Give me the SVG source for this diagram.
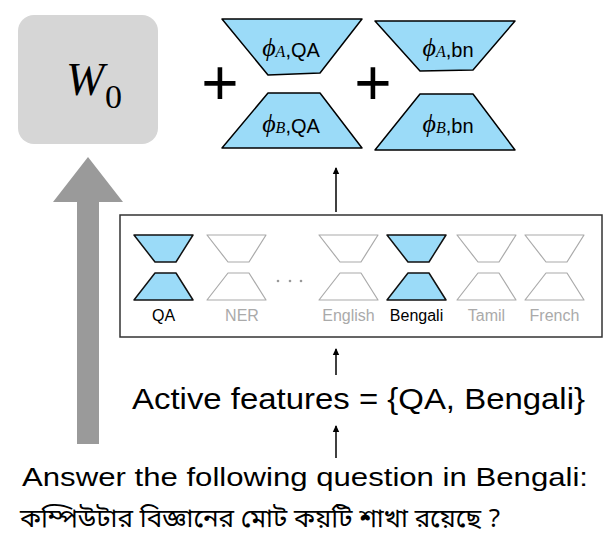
<svg xmlns="http://www.w3.org/2000/svg" width="609" height="542" viewBox="0 0 609 542">
<style>
.sans{font-family:"Liberation Sans",Arial,Helvetica,sans-serif}
.serif{font-family:"Liberation Serif","Times New Roman",serif}
.big{fill:#9bdbf8;stroke:#000;stroke-width:1.5;stroke-linejoin:round}
.on{fill:#9bdbf8;stroke:#111;stroke-width:1.5;stroke-linejoin:round}
.off{fill:none;stroke:#aaa;stroke-width:1.2;stroke-linejoin:round}
.lab{font-size:16px;text-anchor:middle}
.conn{stroke:#000;stroke-width:1.5;fill:none}
</style>
<defs>
<marker id="ah" markerWidth="8" markerHeight="8" refX="6" refY="4" orient="auto" markerUnits="userSpaceOnUse">
<path d="M0,0.8 L7,4 L0,7.2 Z" fill="#000"/>
</marker>
<g id="upper"><polygon points="0,0 59,0 42,27 21,27"/></g>
<g id="lower"><polygon points="21,38 42,38 59,65 0,65"/></g>
</defs>
<rect width="609" height="542" fill="#fff"/>

<g id="W0">
<rect x="18" y="15" width="140" height="129" rx="16" fill="#d6d6d6"/>
<text class="serif" x="66" y="95" font-size="46" font-style="italic" fill="#000">W</text>
<text class="serif" x="105" y="108" font-size="34" fill="#000">0</text>
</g>

<g id="bigArrow">
<polygon points="77,444 77,202 53,202 88,157 123,202 99,202 99,444" fill="#9a9a9a"/>
</g>

<g id="plus1"><text class="sans" x="220" y="105" font-size="64" text-anchor="middle" fill="#000">+</text></g>
<g id="plus2"><text class="sans" x="373" y="105" font-size="64" text-anchor="middle" fill="#000">+</text></g>

<g id="phiAQA">
<polygon class="big" points="222,19 362,19 320,73 268,75"/>
<text x="291" y="56" text-anchor="middle" fill="#000"><tspan class="serif" font-style="italic" font-size="26">ϕ</tspan><tspan class="serif" font-style="italic" font-size="16" dy="1">A</tspan><tspan class="sans" font-size="20">,QA</tspan></text>
</g>
<g id="phiBQA">
<polygon class="big" points="268,93 320,93 362,148 222,148"/>
<text x="291" y="132" text-anchor="middle" fill="#000"><tspan class="serif" font-style="italic" font-size="26">ϕ</tspan><tspan class="serif" font-style="italic" font-size="16" dy="1">B</tspan><tspan class="sans" font-size="20">,QA</tspan></text>
</g>
<g id="phiAbn">
<polygon class="big" points="375,21 515,21 473,70 420,71"/>
<text x="448" y="56" text-anchor="middle" fill="#000"><tspan class="serif" font-style="italic" font-size="26">ϕ</tspan><tspan class="serif" font-style="italic" font-size="16" dy="1">A</tspan><tspan class="sans" font-size="20">,bn</tspan></text>
</g>
<g id="phiBbn">
<polygon class="big" points="420,94 473,94 515,150 375,150"/>
<text x="448" y="132" text-anchor="middle" fill="#000"><tspan class="serif" font-style="italic" font-size="26">ϕ</tspan><tspan class="serif" font-style="italic" font-size="16" dy="1">B</tspan><tspan class="sans" font-size="20">,bn</tspan></text>
</g>

<g id="featureBox">
<rect x="120" y="215" width="482" height="122" fill="#fff" stroke="#333" stroke-width="1.5"/>
</g>

<g id="QA" transform="translate(134,235)">
<use href="#upper" class="on"/><use href="#lower" class="on"/>
<text class="sans lab" x="29.5" y="86" fill="#000">QA</text>
</g>
<g id="NER" transform="translate(207,235)">
<use href="#upper" class="off"/><use href="#lower" class="off"/>
<text class="sans lab" x="35" y="86" fill="#aaa">NER</text>
</g>
<g id="dots" fill="#999">
<circle cx="278" cy="281" r="1.3"/><circle cx="290" cy="281" r="1.3"/><circle cx="301" cy="281" r="1.3"/>
</g>
<g id="English" transform="translate(319,235)">
<use href="#upper" class="off"/><use href="#lower" class="off"/>
<text class="sans lab" x="29.5" y="86" fill="#aaa">English</text>
</g>
<g id="Bengali" transform="translate(387,235)">
<use href="#upper" class="on"/><use href="#lower" class="on"/>
<text class="sans lab" x="29.5" y="86" fill="#000">Bengali</text>
</g>
<g id="Tamil" transform="translate(457,235)">
<use href="#upper" class="off"/><use href="#lower" class="off"/>
<text class="sans lab" x="29.5" y="86" fill="#aaa">Tamil</text>
</g>
<g id="French" transform="translate(525,235)">
<use href="#upper" class="off"/><use href="#lower" class="off"/>
<text class="sans lab" x="29.5" y="86" fill="#aaa">French</text>
</g>

<g id="active">
<text class="sans" x="132" y="409" font-size="30" textLength="453" lengthAdjust="spacingAndGlyphs" fill="#000">Active features = {QA, Bengali}</text>
</g>

<g id="prompt">
<text class="sans" x="22" y="486" font-size="26" textLength="566" lengthAdjust="spacingAndGlyphs" fill="#000">Answer the following question in Bengali:</text>
<text x="20" y="527" font-size="26" fill="#000" font-family="'Noto Sans Bengali','Noto Serif Bengali','Lohit Bengali','Noto Sans',sans-serif">কম্পিউটার বিজ্ঞানের মোট কয়টি শাখা রয়েছে ?</text>
</g>

<g id="connectors">
<line class="conn" x1="336" y1="212" x2="336" y2="168" marker-end="url(#ah)"/>
<line class="conn" x1="336" y1="375" x2="336" y2="349" marker-end="url(#ah)"/>
<line class="conn" x1="336" y1="458" x2="336" y2="426" marker-end="url(#ah)"/>
</g>
</svg>
